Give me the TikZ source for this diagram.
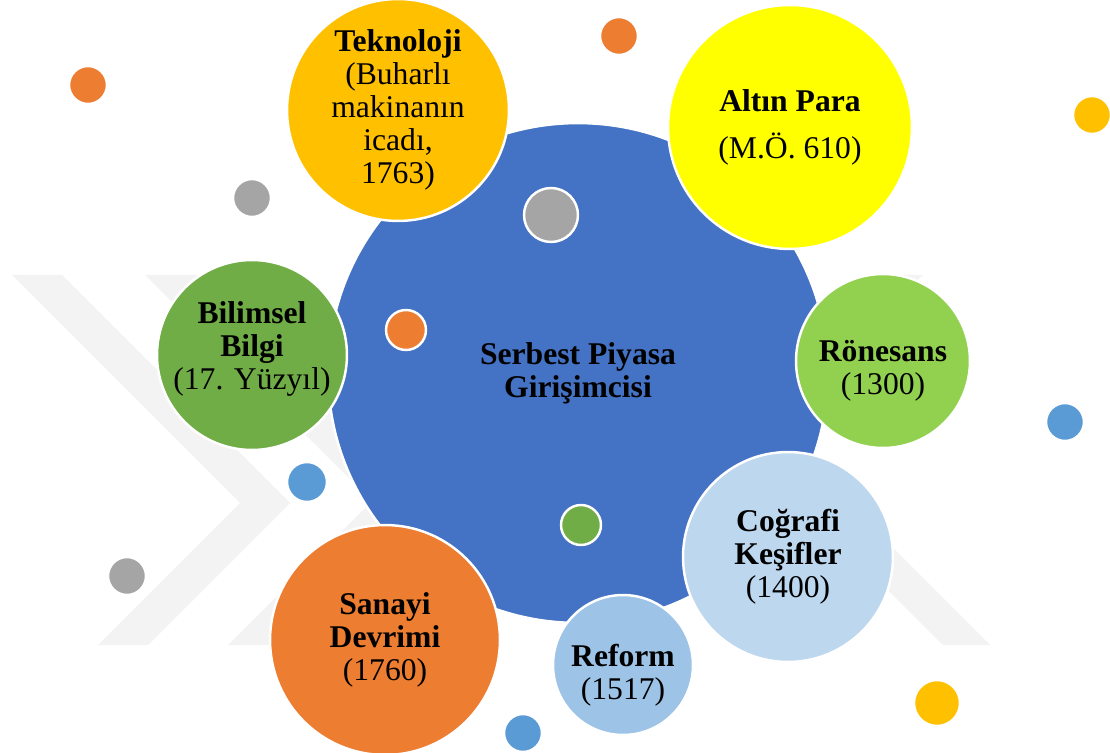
\documentclass[tikz,border=0pt]{standalone}
\usepackage{fontspec}
\setmainfont{Liberation Serif}
\usetikzlibrary{shapes.geometric, positioning}

\definecolor{anamavi}{HTML}{4472C4}
\definecolor{turuncu}{HTML}{ED7D31}
\definecolor{gri}{HTML}{A5A5A5}
\definecolor{altin}{HTML}{FFC000}
\definecolor{acikmavi}{HTML}{5B9BD5}
\definecolor{yesil}{HTML}{70AD47}
\definecolor{sari}{HTML}{FFFF00}
\definecolor{acikyesil}{HTML}{92D050}
\definecolor{buz}{HTML}{BDD7EE}
\definecolor{reformmavi}{HTML}{9DC3E6}
\definecolor{filigran}{HTML}{F3F3F3}

\begin{document}
\begin{tikzpicture}[x=0.02cm,y=-0.02cm,
	yazi/.style={align=center,font=\fontsize{18}{18.7}\selectfont},
	bubble/.style={circle,draw=white,line width=1.4pt,inner sep=0pt,minimum size=#1*0.04cm,yazi},
	spot/.style={circle,draw=white,line width=1.4pt,inner sep=0pt,minimum size=#1*0.04cm}]
		\useasboundingbox (0,0) rectangle (1110,753);
		% filigran
		\fill[filigran] (12,275) -- (62,275) -- (290,503) -- (148,645) -- (98,645) -- (240,503) -- cycle;
		\fill[filigran] (145,275) -- (198,275) -- (424,501) -- (280,645) -- (228,645) -- (372,501) -- cycle;
		\fill[filigran] (870,275) -- (923,275) -- (771,426) -- (990,645) -- (943,645) -- (721,424) -- cycle;
		
		\node(merkez) at (578,373)[bubble=250,fill=anamavi]{\textbf{Serbest Piyasa}\\\textbf{Girişimcisi}};
		\node(i1) at (551,215)[spot=27,fill=gri]{};
		\node(i2) at (406,330)[spot=20,fill=turuncu]{};
		\node(i3) at (581,525)[spot=20,fill=yesil]{};
		
		\node(tekno) at (398,110)[bubble=111,fill=altin]{\textbf{Teknoloji}\\(Buharlı\\makinanın\\icadı,\\1763)};
		\node(para) at (790,127)[bubble=122,fill=sari]{\textbf{Altın Para}\\[8pt](M.Ö. 610)};
		\node(ronesans) at (883,361)[bubble=87,fill=acikyesil,label={[yazi,yshift=-0.2cm]center:{\textbf{Rönesans}\\(1300)}}]{};
		\node(kesif) at (788,557)[bubble=105,fill=buz]{\textbf{Coğrafi}\\\textbf{Keşifler}\\(1400)};
		\node(reform) at (623,665)[bubble=70,fill=reformmavi,label={[yazi,yshift=-0.2cm]center:{\textbf{Reform}\\(1517)}}]{};
		\node(sanayi) at (385,640)[bubble=115,fill=turuncu]{\textbf{Sanayi}\\\textbf{Devrimi}\\(1760)};
		\node(bilim) at (252,355)[bubble=95,fill=yesil,label={[yazi,yshift=0.12cm]center:{\textbf{Bilimsel}\\\textbf{Bilgi}\\(17. Yüzyıl)}}]{};
		
		\node(d1) at (88,85)[spot=19,fill=turuncu]{};
		\node(d2) at (252,198)[spot=19,fill=gri]{};
		\node(d3) at (619,36)[spot=19,fill=turuncu]{};
		\node(d4) at (1092,115)[spot=19,fill=altin]{};
		\node(d5) at (1065,422)[spot=19,fill=acikmavi]{};
		\node(d6) at (307,482)[spot=20,fill=acikmavi]{};
		\node(d7) at (127,576)[spot=19,fill=gri]{};
		\node(d8) at (523,733)[spot=19,fill=acikmavi]{};
		\node(d9) at (937,703)[spot=23,fill=altin]{};
		
	\end{tikzpicture}
\end{document}
